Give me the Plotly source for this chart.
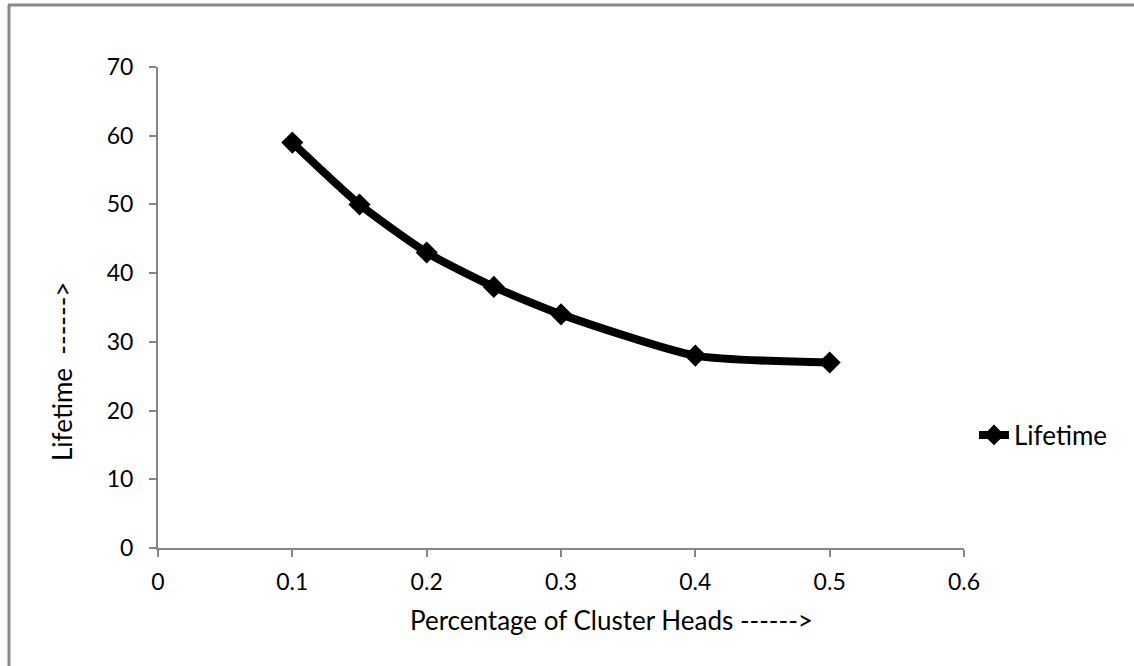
import plotly.graph_objects as go

x_vals = [0.1, 0.15, 0.2, 0.25, 0.3, 0.4, 0.5]
lifetime = [59, 50, 43, 38, 34, 28, 27]
series_name = "Lifetime"
x_title = "Percentage of Cluster Heads ------>"
y_title = "Lifetime  ------>"

FONT = "Lato"
AX = "#868686"

# target pixel geometry (reference coordinates)
L, R, T, B = 158, 964, 67, 548
W, H = 1134, 666
PW, PH = R - L, B - T

def px(xr):
    return (xr - L) / PW

def py(yr):
    return (B - yr) / PH

fig = go.Figure()
fig.add_trace(go.Scatter(
    x=x_vals, y=lifetime, name=series_name, mode="lines+markers",
    line=dict(color="black", width=8, shape="spline", smoothing=0.6),
    marker=dict(symbol="diamond", size=17, color="black"),
))

fig.update_layout(
    width=W, height=H,
    margin=dict(l=L, r=W - R, t=T, b=H - B, pad=0),
    paper_bgcolor="white", plot_bgcolor="white",
    font=dict(family=FONT, size=24, color="black"),
    showlegend=True,
    legend=dict(x=px(974), y=py(435), xanchor="left", yanchor="middle",
                font=dict(size=26, family=FONT), bgcolor="rgba(0,0,0,0)"),
    xaxis=dict(range=[0, 0.6], tickvals=[0, 0.1, 0.2, 0.3, 0.4, 0.5, 0.6],
               ticktext=["0", "0.1", "0.2", "0.3", "0.4", "0.5", "0.6"],
               showgrid=False, zeroline=False, showline=True, linecolor=AX, linewidth=2,
               ticks="outside", ticklen=7, tickwidth=2, tickcolor=AX,
               ticklabelstandoff=5, tickfont=dict(size=23)),
    yaxis=dict(range=[0, 70], tickvals=[0, 10, 20, 30, 40, 50, 60, 70],
               showgrid=False, zeroline=False, showline=True, linecolor=AX, linewidth=2,
               ticks="outside", ticklen=7, tickwidth=2, tickcolor=AX,
               ticklabelstandoff=11, tickfont=dict(size=23)),
)

fig.add_annotation(text=x_title, xref="paper", yref="paper",
                   x=px(611), y=py(620),
                   showarrow=False, font=dict(size=26), xanchor="center", yanchor="middle")
fig.add_annotation(text=y_title, xref="paper", yref="paper",
                   x=px(62), y=py(372), textangle=-90,
                   showarrow=False, font=dict(size=26), xanchor="center", yanchor="middle")

# outer chart frame (left and top edges visible)
fig.add_shape(type="line", xref="paper", yref="paper",
              x0=px(9), x1=px(9), y0=py(5), y1=py(700),
              line=dict(color="#898989", width=3))
fig.add_shape(type="line", xref="paper", yref="paper",
              x0=px(8), x1=px(1160), y0=py(5), y1=py(5),
              line=dict(color="#898989", width=3))

fig.write_html("out.html", config={"displayModeBar": False},
               post_script="document.body.style.margin='0';document.body.style.overflow='hidden';")
